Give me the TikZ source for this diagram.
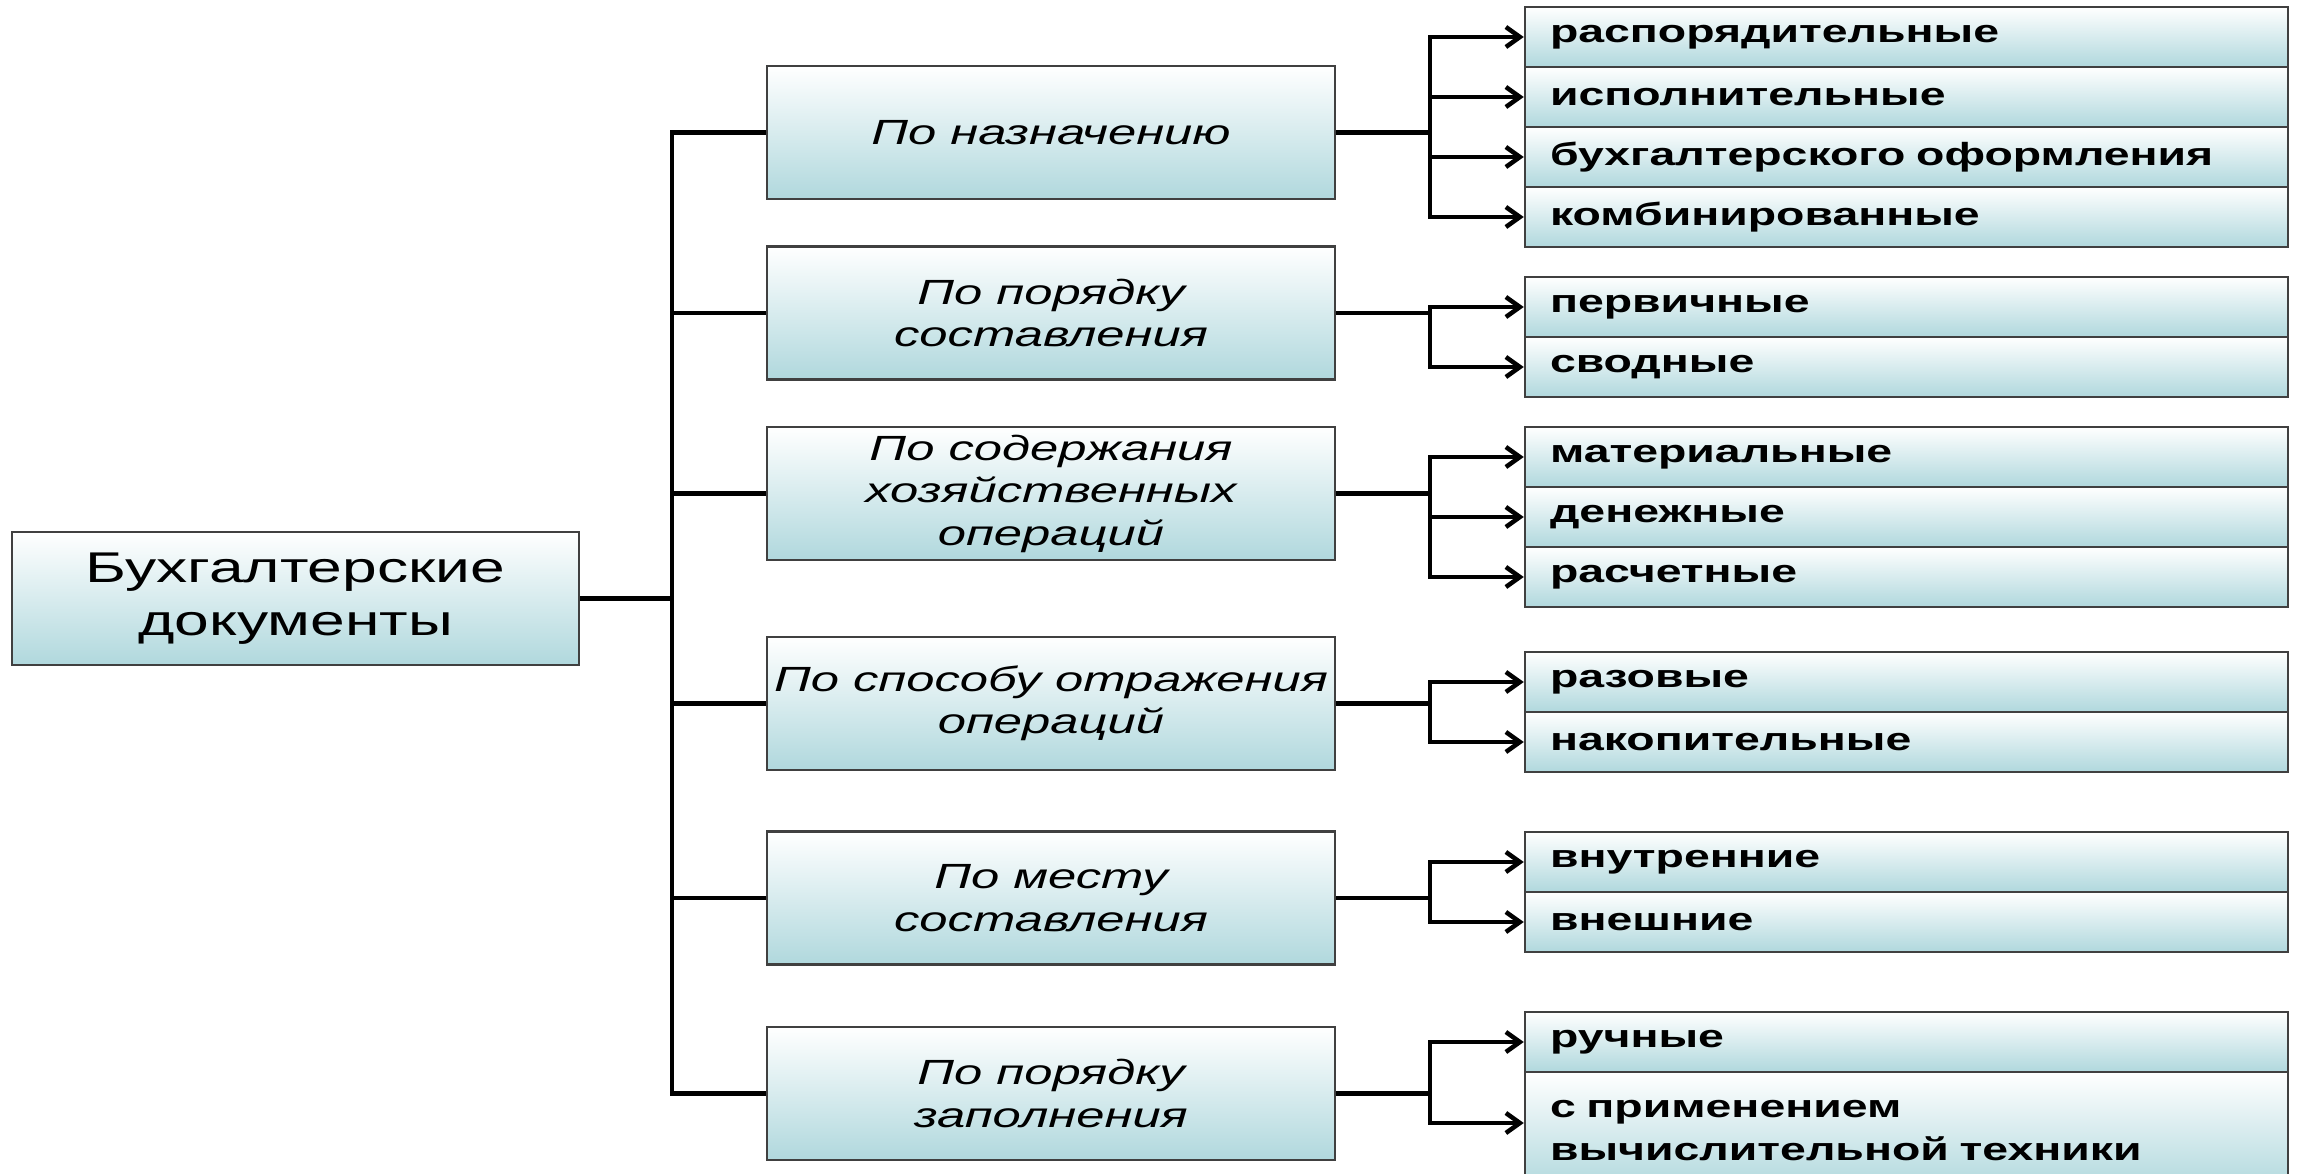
\documentclass[tikz,border=0pt]{standalone}
\usepackage{fontspec}
\setmainfont{Liberation Sans}
\newfontfamily\boxfont[FakeStretch=1.45]{Liberation Sans}
\usetikzlibrary{arrows.meta}
\definecolor{boxteal}{RGB}{176,216,221}
\definecolor{boxline}{RGB}{64,64,64}

\begin{document}
\begin{tikzpicture}[x=1pt, y=-1pt,
		box/.style = {draw=boxline, line width=2.5pt, top color=white, bottom color=boxteal, inner sep=0pt},
		rootbox/.style = {box, minimum width=567pt, minimum height=133pt, align=center, font=\boxfont\fontsize{43}{53}\selectfont},
		catbox/.style = {box, minimum width=568pt, minimum height=133pt, align=center, font=\boxfont\itshape\fontsize{35}{42.5}\selectfont},
		leafbox/.style = {box, text width=713pt, inner xsep=25pt, minimum height=60pt, align=left, font=\boxfont\bfseries\fontsize{32}{43}\selectfont},
		conn/.style = {line width=4.5pt},
		arr/.style = {conn, -{Straight Barb[length=14pt, width=20pt]}}]
			\useasboundingbox (0,0) rectangle (2300,1174);
			\clip (0,0) rectangle (2300,1174);
			
			\node[rootbox] (r) at (295.5,598.5) {Бухгалтерские\\документы};
			
			\node[catbox] (c1) at (1051,132.5) {По назначению};
			\node[catbox] (c2) at (1051,313) {По порядку\\составления};
			\node[catbox] (c3) at (1051,493.5) {По содержания\\хозяйственных\\операций};
			\node[catbox] (c4) at (1051,703.5) {По способу отражения\\операций};
			\node[catbox] (c5) at (1051,898) {По месту\\составления};
			\node[catbox] (c6) at (1051,1093.5) {По порядку\\заполнения};
			
			\node[leafbox] (v11) at (1906.5,37) {распорядительные};
			\node[leafbox] (v12) at (1906.5,97) {исполнительные};
			\node[leafbox] (v13) at (1906.5,157) {бухгалтерского оформления};
			\node[leafbox] (v14) at (1906.5,217) {комбинированные};
			\node[leafbox] (v21) at (1906.5,307) {первичные};
			\node[leafbox] (v22) at (1906.5,367) {сводные};
			\node[leafbox] (v31) at (1906.5,457) {материальные};
			\node[leafbox] (v32) at (1906.5,517) {денежные};
			\node[leafbox] (v33) at (1906.5,577) {расчетные};
			\node[leafbox] (v41) at (1906.5,682) {разовые};
			\node[leafbox] (v42) at (1906.5,742) {накопительные};
			\node[leafbox] (v51) at (1906.5,862) {внутренние};
			\node[leafbox] (v52) at (1906.5,922) {внешние};
			\node[leafbox] (v61) at (1906.5,1042) {ручные};
			\node[leafbox, minimum height=118pt] (v62) at (1906.5,1131) {с применением\\вычислительной техники};
			
			\coordinate (tr) at (672,0);
			\coordinate (br) at (1430,0);
			
			\draw[conn] (r.east) -- (r.east -| tr);
			\draw[conn] (c1.west) -| (tr |- c6.west) -- (c6.west);
			\draw[conn] (c2.west) -- (c2.west -| tr);
			\draw[conn] (c3.west) -- (c3.west -| tr);
			\draw[conn] (c4.west) -- (c4.west -| tr);
			\draw[conn] (c5.west) -- (c5.west -| tr);
			
			\draw[conn] (c1.east) -- (c1.east -| br);
			\draw[arr] (c1.east -| br) |- (v11.west);
			\draw[arr] (c1.east -| br) |- (v12.west);
			\draw[arr] (c1.east -| br) |- (v13.west);
			\draw[arr] (c1.east -| br) |- (v14.west);
			
			\draw[conn] (c2.east) -- (c2.east -| br);
			\draw[arr] (c2.east -| br) |- (v21.west);
			\draw[arr] (c2.east -| br) |- (v22.west);
			
			\draw[conn] (c3.east) -- (c3.east -| br);
			\draw[arr] (c3.east -| br) |- (v31.west);
			\draw[arr] (c3.east -| br) |- (v32.west);
			\draw[arr] (c3.east -| br) |- (v33.west);
			
			\draw[conn] (c4.east) -- (c4.east -| br);
			\draw[arr] (c4.east -| br) |- (v41.west);
			\draw[arr] (c4.east -| br) |- (v42.west);
			
			\draw[conn] (c5.east) -- (c5.east -| br);
			\draw[arr] (c5.east -| br) |- (v51.west);
			\draw[arr] (c5.east -| br) |- (v52.west);
			
			\draw[conn] (c6.east) -- (c6.east -| br);
			\draw[arr] (c6.east -| br) |- (v61.west);
			\draw[arr] (c6.east -| br) |- ([yshift=8pt]v62.west);
		\end{tikzpicture}
\end{document}
